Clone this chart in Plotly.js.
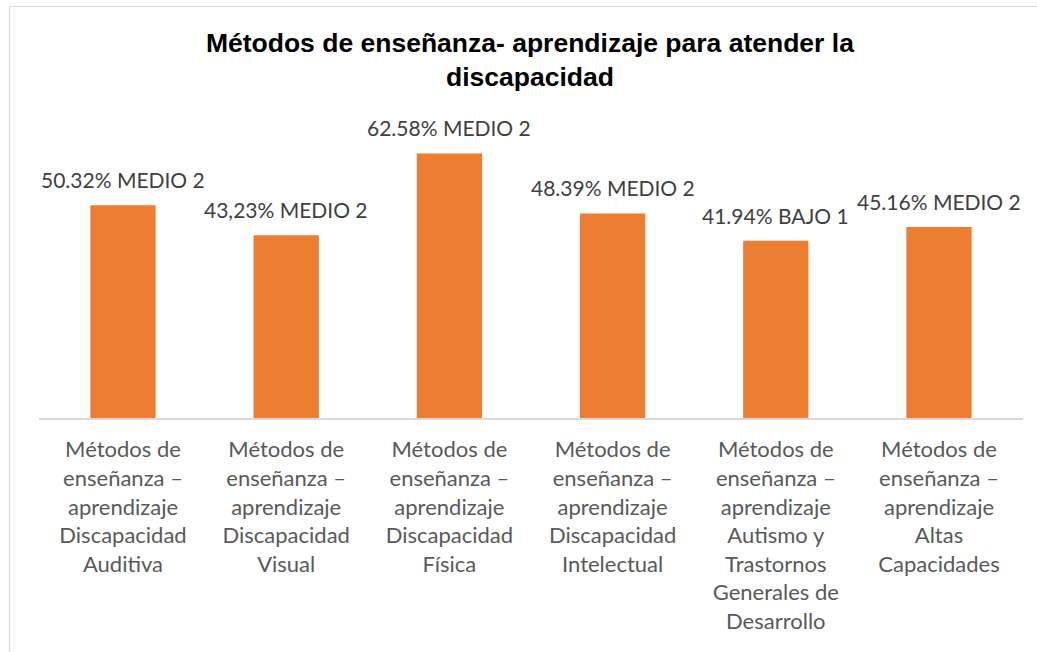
<!DOCTYPE html>
<html>
<head>
<meta charset="utf-8">
<script src="https://cdn.plot.ly/plotly-3.0.1.min.js"></script>
<style>
html,body{margin:0;padding:0;background:#fff;}
#frame{position:absolute;left:9px;top:6px;width:1040px;height:660px;border-left:1px solid #d9d9d9;border-top:1px solid #d9d9d9;box-sizing:border-box;}
#chart{position:absolute;left:0;top:0;width:1037px;height:652px;}
</style>
</head>
<body>
<div id="frame"></div>
<div id="chart"></div>
<script>
const categories = [
  "Métodos de<br>enseñanza –<br>aprendizaje<br>Discapacidad<br>Auditiva",
  "Métodos de<br>enseñanza –<br>aprendizaje<br>Discapacidad<br>Visual",
  "Métodos de<br>enseñanza –<br>aprendizaje<br>Discapacidad<br>Física",
  "Métodos de<br>enseñanza –<br>aprendizaje<br>Discapacidad<br>Intelectual",
  "Métodos de<br>enseñanza –<br>aprendizaje<br>Autismo y<br>Trastornos<br>Generales de<br>Desarrollo",
  "Métodos de<br>enseñanza –<br>aprendizaje<br>Altas<br>Capacidades"
];
const values = [50.32, 43.23, 62.58, 48.39, 41.94, 45.16];
const labels = ["50.32% MEDIO 2", "43,23% MEDIO 2", "62.58% MEDIO 2", "48.39% MEDIO 2", "41.94% BAJO 1", "45.16% MEDIO 2"];

const FONT = "Lato, Calibri, 'Open Sans', sans-serif";

const trace = {
  type: 'bar',
  x: categories,
  y: values,
  marker: {color: '#ED7D31'},
  hoverinfo: 'none'
};

const annotations = categories.map((c, i) => ({
  x: c, y: values[i], xref: 'x', yref: 'y',
  text: labels[i], showarrow: false,
  yanchor: 'bottom', yshift: 11,
  font: {family: FONT, size: 21, color: '#404040'}
}));

const layout = {
  width: 1037, height: 652,
  margin: {l: 39, r: 14, t: 122, b: 234},
  paper_bgcolor: 'rgba(0,0,0,0)',
  plot_bgcolor: 'rgba(0,0,0,0)',
  bargap: 0.6,
  showlegend: false,
  title: {
    text: "Métodos de enseñanza- aprendizaje para atender la<br>discapacidad",
    font: {family: "'Liberation Sans', Arial, sans-serif", size: 26.5, color: '#000', weight: 'bold'},
    x: 0.511, xanchor: 'center', y: 1 - 52/652, yanchor: 'middle', yref: 'container'
  },
  xaxis: {
    type: 'category',
    showline: true, linecolor: '#d9d9d9', linewidth: 2,
    ticks: '', showgrid: false,
    tickfont: {family: FONT, size: 22, color: '#595959'},
    tickangle: 0,
    ticklabelstandoff: 11
  },
  yaxis: {
    range: [0, 70], visible: false, showgrid: false, zeroline: false
  },
  annotations: annotations
};

Plotly.newPlot('chart', [trace], layout, {displayModeBar: false, staticPlot: true});
</script>
</body>
</html>
